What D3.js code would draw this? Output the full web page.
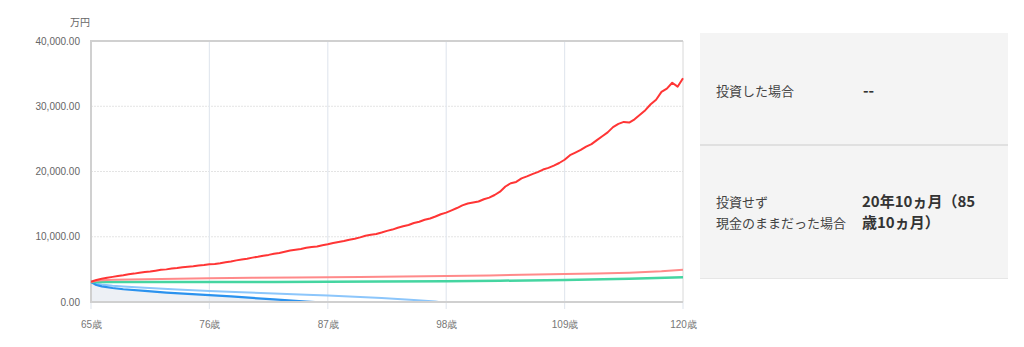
<!DOCTYPE html>
<html><head><meta charset="utf-8">
<script src="https://cdn.jsdelivr.net/npm/d3@7"></script>
<style>
body{margin:0;background:#fff;}
svg{display:block;font-family:"Noto Sans CJK JP","Noto Sans",sans-serif;}
</style></head>
<body><svg id="c" width="1024" height="347"></svg>
<script>
const xTicks = [65,76,87,98,109,120];
const yTicks = [0,10000,20000,30000,40000];

const redAges = [];
for (let a = 65; a <= 120.001; a += 0.5) redAges.push(a);
const redVals = [3100,3380,3550,3720,3850,3990,4100,4240,4350,4490,4600,4680,4800,4930,5000,5120,5200,5330,5400,5480,5600,5660,5770,5840,5950,6090,6200,6380,6500,6620,6800,6930,7100,7220,7400,7520,7700,7880,8000,8120,8300,8440,8500,8700,8850,9050,9200,9350,9550,9700,9900,10150,10300,10420,10650,10900,11100,11380,11600,11800,12100,12300,12600,12800,13100,13450,13700,14050,14400,14800,15100,15250,15400,15750,16000,16400,16900,17700,18200,18400,18950,19250,19600,19900,20300,20550,20900,21300,21800,22500,22900,23300,23800,24200,24800,25400,26000,26800,27300,27600,27500,28000,28700,29400,30300,31000,32200,32700,33600,33000,34300];

const pinkAges = [65,65.5,66,67,70,73,76,80,84,87,90,94,98,102,105,109,112,115,118,120];
const pinkVals = [3050,3250,3330,3400,3480,3560,3630,3700,3760,3800,3850,3920,3980,4080,4180,4290,4380,4500,4700,4950];

const greenAges = [65,70,76,82,87,92,98,103,109,115,120];
const greenVals = [3050,3060,3070,3080,3100,3130,3170,3260,3380,3560,3780];

const lblueAges = [65,65.5,66,67,68,70,73,76,79,82,85,87,90,92,95,97,97.3];
const lblueVals = [3050,2800,2680,2500,2380,2180,1920,1680,1480,1300,1120,1000,750,600,300,60,0];

const dblueAges = [65,65.5,66,67,68,70,72,74,76,78,80,82,84,85,85.83];
const dblueVals = [3050,2600,2400,2150,1950,1700,1450,1250,1050,850,620,400,170,70,0];

const svg = d3.select("#c");
const x = d3.scaleLinear().domain([65,120]).range([91,683]);
const y = d3.scaleLinear().domain([0,40000]).range([302,41]);
const zip = (a,v) => a.map((d,i)=>[d,v[i]]);
const line = d3.line().x(d=>x(d[0])).y(d=>y(d[1]));

// fill under dark blue
svg.append("path").datum(zip(dblueAges,dblueVals))
  .attr("d", d3.area().x(d=>x(d[0])).y0(y(0)).y1(d=>y(d[1])))
  .attr("fill","#edf0f5");

// grid
const gy = svg.append("g");
yTicks.filter(t=>t>0 && t<40000).forEach(t=>{
  gy.append("line").attr("x1",x(65)).attr("x2",x(120)).attr("y1",y(t)).attr("y2",y(t))
    .attr("stroke","#e4e4e4").attr("stroke-dasharray","2,1");
});
xTicks.slice(1,-1).forEach(t=>{
  gy.append("line").attr("x1",x(t)).attr("x2",x(t)).attr("y1",y(40000)).attr("y2",309)
    .attr("stroke","#e3e8ef").attr("stroke-width",1.2);
});
[65,120].forEach(t=>{
  gy.append("line").attr("x1",x(t)).attr("x2",x(t)).attr("y1",302).attr("y2",309)
    .attr("stroke","#e3e8ef").attr("stroke-width",1.2);
});

// frame
svg.append("line").attr("x1",x(120)).attr("x2",x(120)).attr("y1",y(40000)).attr("y2",y(0)).attr("stroke","#d8d8d8").attr("stroke-width",1);
svg.append("line").attr("x1",x(65)-1).attr("x2",x(120)).attr("y1",y(40000)).attr("y2",y(40000)).attr("stroke","#d0d0d0").attr("stroke-width",2);
svg.append("line").attr("x1",x(65)).attr("x2",x(65)).attr("y1",y(40000)).attr("y2",y(0)).attr("stroke","#d0d0d0").attr("stroke-width",2);

// axes
const yAxis = d3.axisLeft(y).tickValues(yTicks).tickSize(0).tickPadding(11)
  .tickFormat(d=>d3.format(",.2f")(d));
const ga = svg.append("g").attr("transform",`translate(${x(65)},0)`).call(yAxis);
ga.select(".domain").remove();
ga.selectAll("text").attr("fill","#666").attr("font-size","10px").attr("font-weight","500");

const xAxis = d3.axisBottom(x).tickValues(xTicks).tickSize(0).tickPadding(19).tickFormat(d=>d+"歳");
const gx = svg.append("g").attr("transform",`translate(0,${y(0)})`).call(xAxis);
gx.select(".domain").remove();
gx.selectAll("text").attr("fill","#777").attr("font-size","10px").attr("font-weight","500");

svg.append("text").attr("x",80).attr("y",26).attr("text-anchor","middle")
  .attr("font-size","10px").attr("fill","#666").text("万円");

// lines
const series = [
  [lblueAges,lblueVals,"#8cc6fb",2],
  [dblueAges,dblueVals,"#2b92ee",2.2],
  [greenAges,greenVals,"#45d5a1",2.5],
  [pinkAges,pinkVals,"#ff8a8a",2],
  [redAges,redVals,"#ff3535",2]
];
series.forEach(([a,v,c,w])=>{
  svg.append("path").datum(zip(a,v)).attr("d",line)
    .attr("fill","none").attr("stroke",c).attr("stroke-width",w).attr("stroke-linejoin","round");
});

// bottom axis line
svg.append("line").attr("x1",x(65)-1).attr("x2",x(120)).attr("y1",y(0)).attr("y2",y(0)).attr("stroke","#d0d0d0").attr("stroke-width",2);

// right panel
const p = svg.append("g");
p.append("rect").attr("x",700).attr("y",33).attr("width",308).attr("height",246).attr("fill","#f4f4f4");
p.append("line").attr("x1",700).attr("x2",1008).attr("y1",145).attr("y2",145).attr("stroke","#e0e0e0").attr("stroke-width",2);
p.append("line").attr("x1",700).attr("x2",1008).attr("y1",278.5).attr("y2",278.5).attr("stroke","#e6e6e6").attr("stroke-width",1);
const lab = (t,xx,yy,bold,fs,col)=>p.append("text").attr("x",xx).attr("y",yy).attr("dominant-baseline","central")
  .attr("font-size",fs).attr("font-weight",bold?"bold":"normal").attr("fill",col).text(t);
lab("投資した場合",716,90,false,"13px","#444");
lab("--",863,89,true,"15px","#333");
lab("投資せず",716,201,false,"13px","#444");
lab("現金のままだった場合",716,222,false,"13px","#444");
lab("20年10ヵ月（85",862,200,true,"15px","#333");
lab("歳10ヵ月）",862,221,true,"15px","#333");
</script></body></html>
